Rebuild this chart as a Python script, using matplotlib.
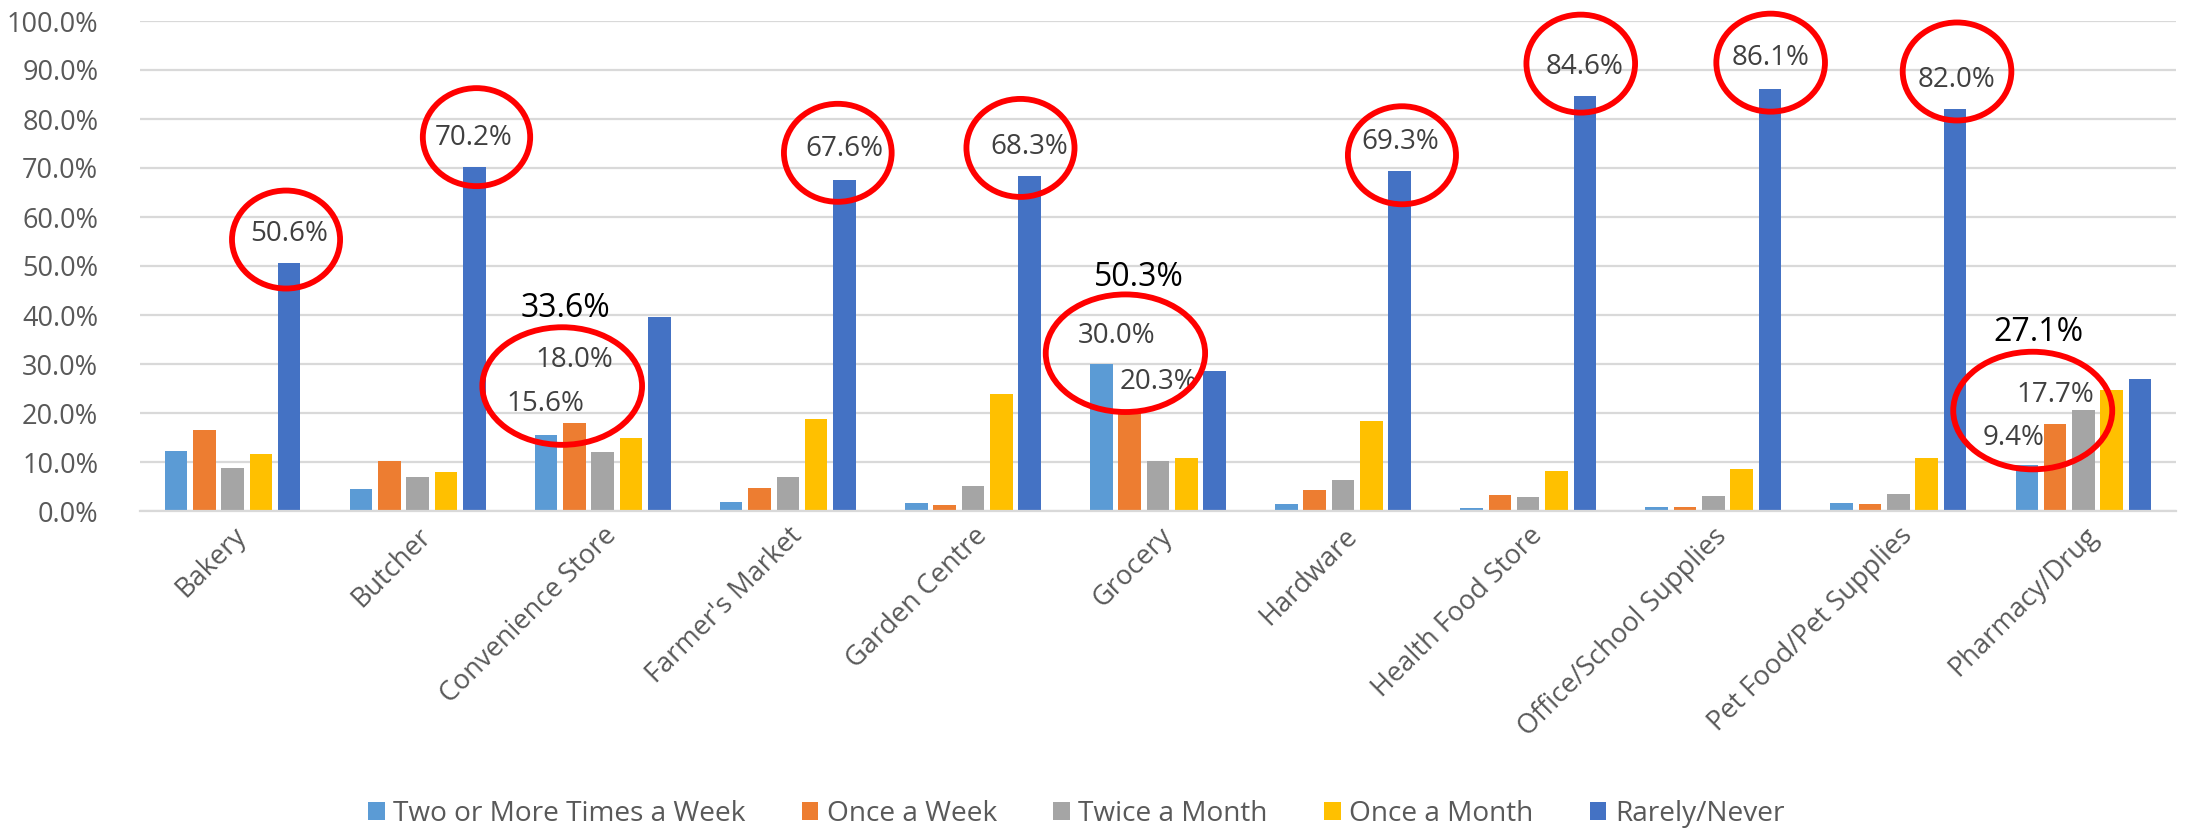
import numpy as np
import matplotlib.pyplot as plt
from matplotlib.patches import Ellipse

plt.rcParams['font.family'] = ['Open Sans', 'DejaVu Sans']

# data (percent)
categories = ['Bakery', 'Butcher', 'Convenience Store', "Farmer's Market", 'Garden Centre',
              'Grocery', 'Hardware', 'Health Food Store', 'Office/School Supplies',
              'Pet Food/Pet Supplies', 'Pharmacy/Drug']
series_names = ['Two or More Times a Week', 'Once a Week', 'Twice a Month',
                'Once a Month', 'Rarely/Never']
two_plus_week = [12.3, 4.4, 15.6, 1.8, 1.7, 30.0, 1.5, 0.7, 0.8, 1.7, 9.4]
once_week = [16.6, 10.3, 18.0, 4.6, 1.2, 20.3, 4.3, 3.2, 0.8, 1.4, 17.7]
twice_month = [8.8, 6.9, 12.1, 6.9, 5.1, 10.2, 6.4, 2.8, 3.0, 3.4, 20.6]
once_month = [11.6, 7.9, 14.8, 18.8, 23.8, 10.9, 18.3, 8.2, 8.5, 10.8, 24.7]
rarely_never = [50.6, 70.2, 39.5, 67.6, 68.3, 28.6, 69.3, 84.6, 86.1, 82.0, 27.0]
colors = ['#5B9BD5', '#ED7D31', '#A5A5A5', '#FFC000', '#4472C4']

# circled labels: (category index, text, x offset, y)
circle_labels = [
    (0, '50.6%', 0.305, 56.6), (1, '70.2%', 0.302, 76.2),
    (2, '18.0%', -0.155, 30.8), (2, '15.6%', -0.310, 21.9),
    (3, '67.6%', 0.304, 73.8), (4, '68.3%', 0.307, 74.3),
    (5, '30.0%', -0.223, 35.7), (5, '20.3%', 0.005, 26.4),
    (6, '69.3%', 0.307, 75.4), (7, '84.6%', 0.306, 90.7),
    (8, '86.1%', 0.310, 92.4), (9, '82.0%', 0.312, 88.0),
    (10, '17.7%', -0.151, 23.6), (10, '9.4%', -0.375, 15.0),
]
# summed labels above circles
sum_labels = [(2, '33.6%', -0.199, 41.3), (5, '50.3%', -0.106, 47.6), (10, '27.1%', -0.244, 36.5)]
# circles: (category index, x offset, y centre, width, height)
circles = [
    (0, 0.289, 55.4, 0.584, 20), (1, 0.318, 76.3, 0.580, 20),
    (2, -0.219, 25.5, 0.863, 24), (3, 0.270, 73.1, 0.582, 20),
    (4, 0.257, 74.1, 0.584, 20), (5, -0.176, 32.2, 0.861, 24),
    (6, 0.318, 72.6, 0.584, 20), (7, 0.284, 91.3, 0.587, 20),
    (8, 0.310, 91.5, 0.587, 20), (9, 0.317, 89.7, 0.587, 20),
    (10, -0.274, 20.5, 0.859, 24),
]

all_series = [two_plus_week, once_week, twice_month, once_month, rarely_never]

fig = plt.figure(figsize=(21.91, 8.31), dpi=100)
ax = fig.add_axes([140 / 2191, 1 - 511 / 831, 2036 / 2191, 490 / 831])

x = np.arange(len(categories))
step = 0.153
width = 0.122
for k, (vals, name, c) in enumerate(zip(all_series, series_names, colors)):
    ax.bar(x + (k - 2) * step, vals, width, color=c, label=name, zorder=2)

ax.set_xlim(-0.5, len(categories) - 0.5)
ax.set_ylim(0, 100)
ax.set_yticks(np.arange(0, 101, 10))
ax.set_yticklabels([f'{v:.1f}%' for v in np.arange(0, 101, 10)])
ax.yaxis.grid(True, color='#D9D9D9', linewidth=1.6, zorder=0)
ax.set_axisbelow(True)
for s in ['top', 'right', 'left']:
    ax.spines[s].set_visible(False)
ax.spines['bottom'].set_color('#D9D9D9')
ax.spines['bottom'].set_linewidth(1.6)
ax.tick_params(axis='y', length=0, pad=30, labelsize=19.5, labelcolor='#595959')
ax.tick_params(axis='x', length=0, pad=8, labelsize=19.5, labelcolor='#595959')
ax.set_xticks(x)
ax.set_xticklabels(categories, rotation=45, ha='right', va='top', rotation_mode='anchor')

for i, txt, dx, y in circle_labels:
    ax.text(i + dx, y, txt, ha='center', va='center', fontsize=20, color='#404040', zorder=4)
for i, txt, dx, y in sum_labels:
    ax.text(i + dx, y, txt, ha='center', va='center', fontsize=23, color='black', zorder=4)
for i, dx, y, w, h in circles:
    ax.add_patch(Ellipse((i + dx, y), w, h, fill=False, edgecolor='#FF0000',
                         linewidth=4.2, zorder=5, clip_on=False))

fig.legend(loc='center', bbox_to_anchor=(1076 / 2191, 1 - 814 / 831), ncol=5,
           frameon=False, fontsize=20.2, handlelength=0.6, handleheight=0.6,
           handletextpad=0.3, columnspacing=2.0, labelcolor='#595959')

fig.savefig('out.png', dpi=100)
